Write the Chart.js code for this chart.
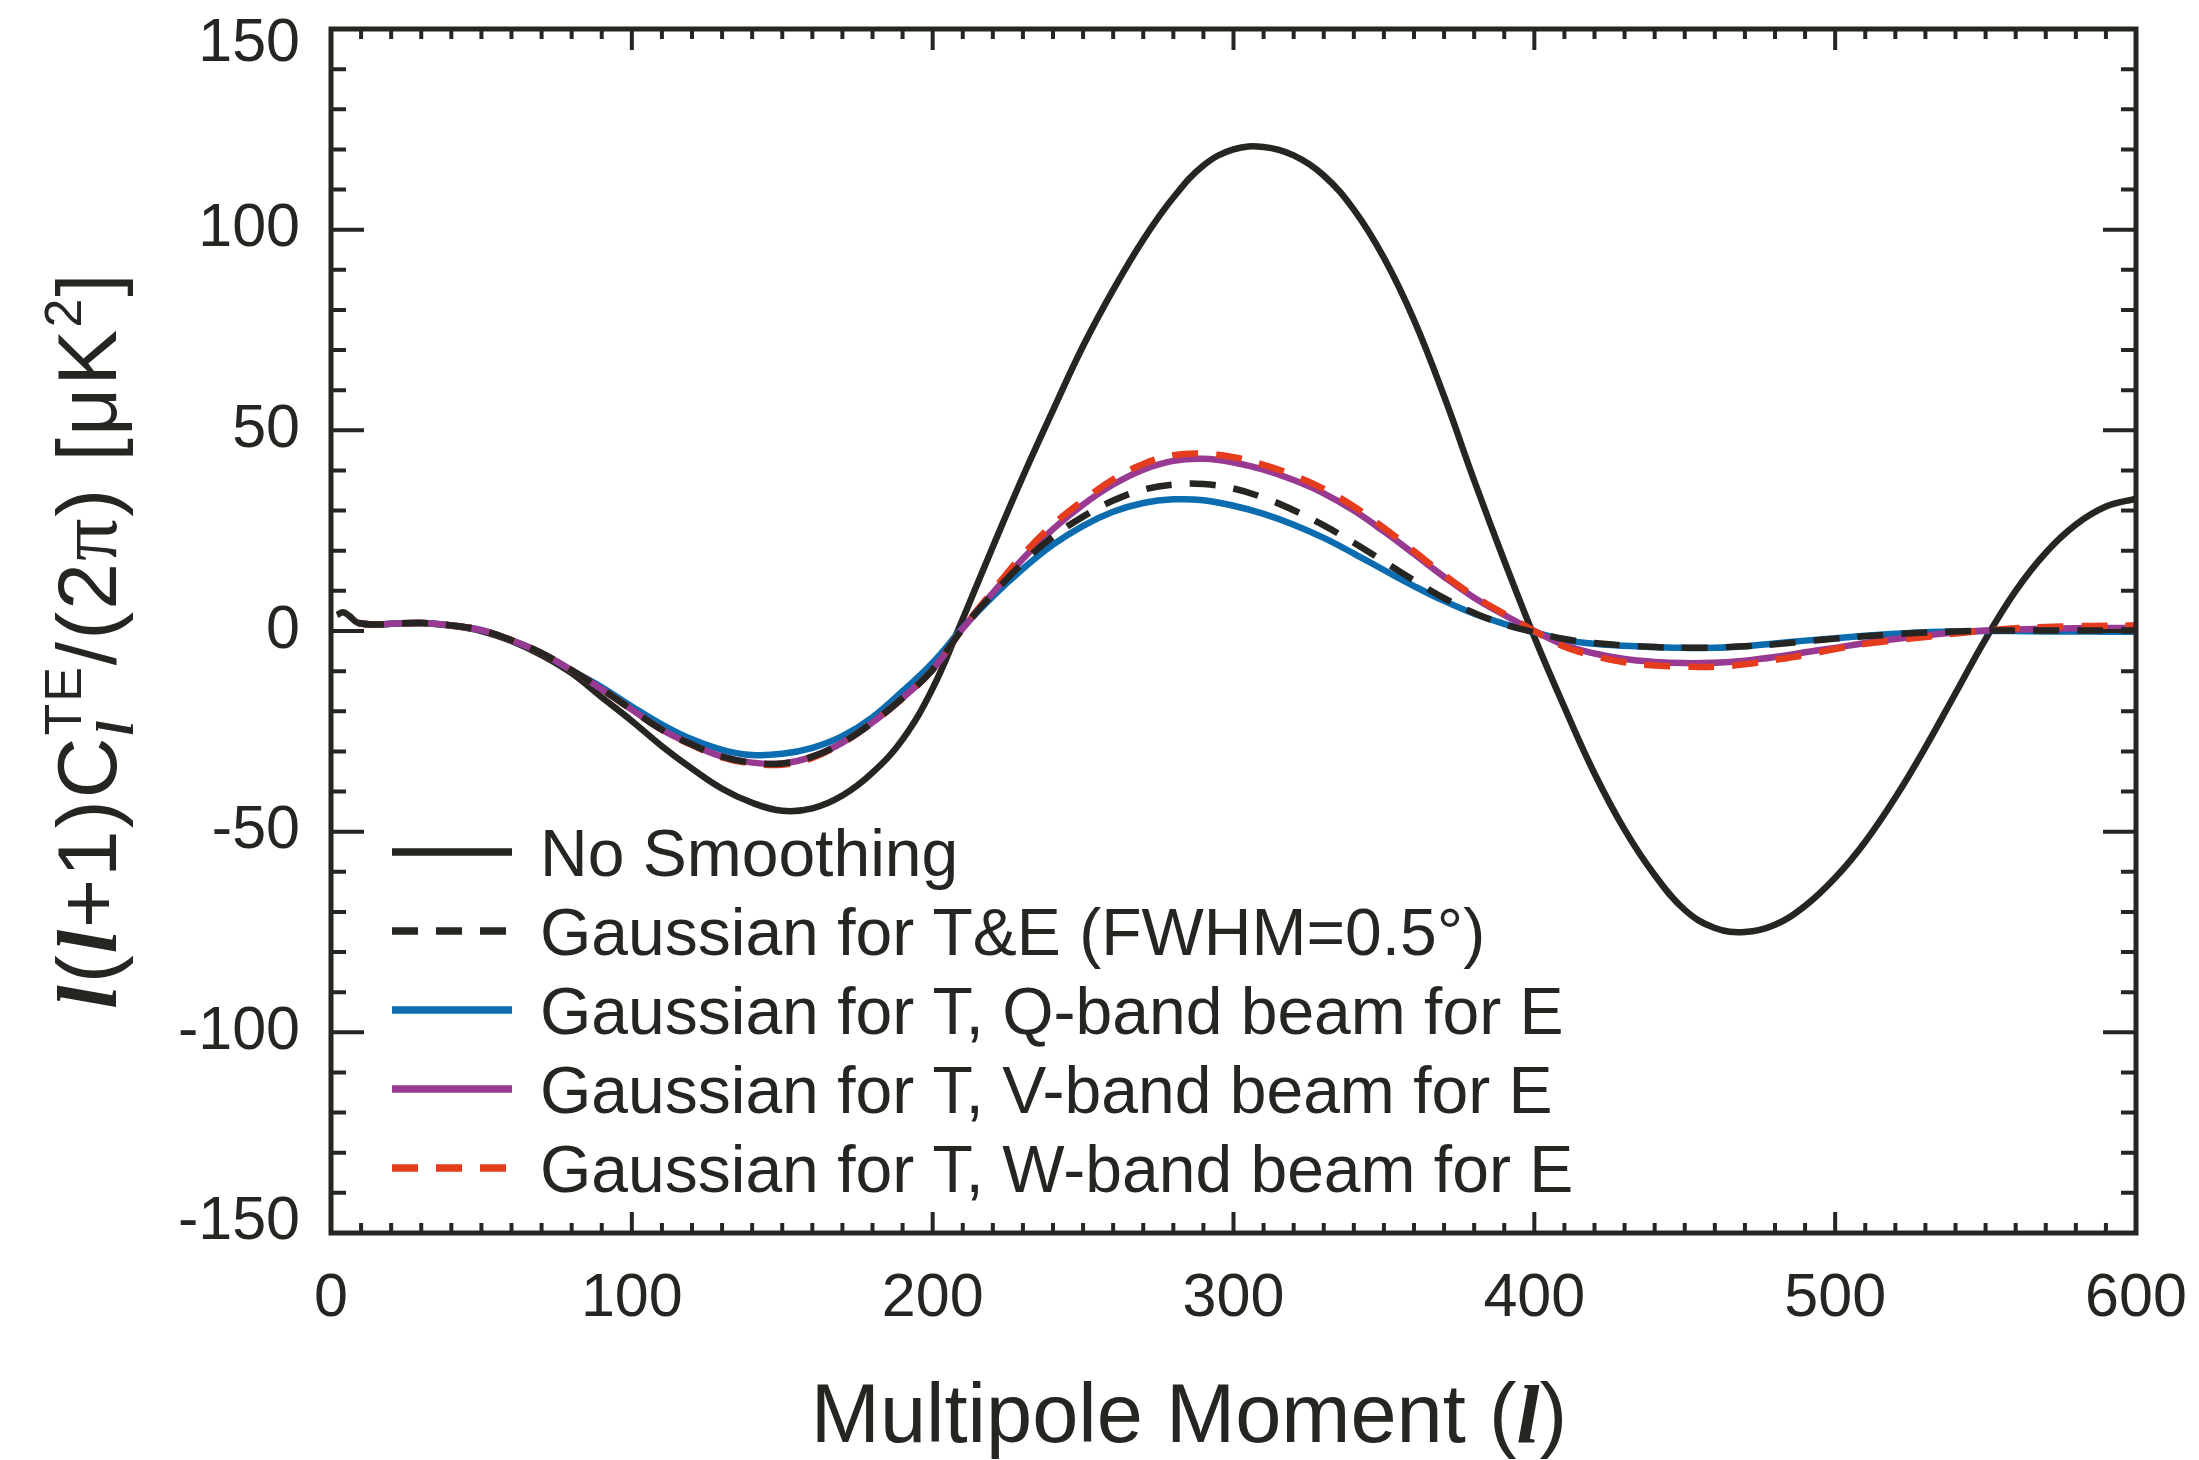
<!DOCTYPE html>
<html>
<head>
<meta charset="utf-8">
<script src="https://cdn.jsdelivr.net/npm/chart.js@4.4.1/dist/chart.umd.min.js"></script>
<style>
  html, body { margin: 0; padding: 0; background: #ffffff; }
  #wrap { width: 2199px; height: 1460px; }
</style>
</head>
<body>
<div id="wrap"><canvas id="chart-te" width="2199" height="1460"></canvas></div>
<script>
// multipole moments (shared x values)
const ell = [2, 4, 6, 9, 14, 20,
  30, 40, 50, 60, 70, 80, 90, 100, 110, 120, 130, 140, 150, 160, 170, 180, 190, 200,
  210, 220, 230, 240, 250, 260, 270, 280, 290, 300, 310, 320, 330, 340, 350, 360, 370, 380, 390, 400,
  410, 420, 430, 440, 450, 460, 470, 480, 490, 500, 510, 520, 530, 540, 550, 560, 570, 580, 590, 600];

const noSmoothing = [4.0, 4.7, 3.8, 2.0, 1.6, 1.8,
  2.0, 1.3, 0.0, -2.5, -6.0, -10.5, -16.5, -22.4, -28.7, -34.3, -39.3, -42.8, -44.8, -44.2, -41.0, -35.3, -27.0, -14.3,
  3.0, 21.0, 38.5, 55.0, 71.0, 85.0, 97.5, 108.0, 116.0, 120.0, 120.6, 118.5, 113.5, 105.0, 93.0, 77.5, 58.5, 37.5, 17.5, -1.5,
  -19.0, -35.5, -49.5, -60.8, -69.5, -74.0, -75.0, -73.2, -68.5, -61.5, -52.5, -41.5, -29.0, -15.5, -2.0, 10.0, 19.5, 26.5, 31.0, 33.0];

const gaussTE = [null, null, null, 2.0, 1.6, 1.8,
  2.0, 1.4, 0.2, -2.3, -5.5, -9.8, -14.5, -19.6, -24.6, -28.3, -31.3, -32.8, -33.0, -31.3, -27.8, -22.8, -16.7, -9.6,
  0.6, 9.2, 17.0, 23.5, 28.5, 32.5, 35.2, 36.5, 36.6, 35.5, 33.2, 30.1, 26.3, 22.0, 17.3, 12.6, 8.2, 4.5, 1.7, -0.3,
  -2.0, -3.0, -3.6, -4.0, -4.2, -4.1, -3.8, -3.3, -2.6, -1.9, -1.3, -0.8, -0.4, -0.1, 0.1, 0.1, 0.1, 0.1, 0.1, 0.1];

const qBand = [null, null, null, 2.0, 1.6, 1.8,
  2.0, 1.4, 0.2, -2.3, -5.5, -9.8, -14.0, -18.8, -23.3, -27.0, -29.6, -30.9, -30.6, -29.1, -26.2, -21.5, -15.0, -7.9,
  0.8, 8.6, 15.5, 21.5, 26.2, 29.7, 31.9, 32.8, 32.6, 31.2, 29.2, 26.5, 23.2, 19.3, 15.2, 11.2, 7.5, 4.3, 1.8, -0.3,
  -2.2, -3.2, -3.7, -4.0, -4.2, -4.2, -3.8, -3.1, -2.4, -1.8, -1.2, -0.7, -0.3, -0.1, 0.0, 0.0, -0.1, -0.1, -0.2, -0.2];

const vBand = [null, null, null, 2.0, 1.6, 1.8,
  2.0, 1.4, 0.2, -2.3, -5.5, -9.8, -14.5, -19.6, -24.6, -28.3, -31.3, -32.8, -33.0, -31.3, -27.8, -22.8, -16.7, -9.6,
  0.6, 9.5, 18.0, 25.4, 31.5, 36.5, 40.2, 42.4, 42.9, 42.0, 40.2, 37.6, 34.3, 30.0, 24.8, 19.2, 13.5, 8.3, 4.0, 0.0,
  -3.5, -5.6, -7.0, -7.7, -8.0, -7.9, -7.4, -6.5, -5.3, -4.2, -3.0, -2.0, -1.1, -0.4, 0.1, 0.4, 0.55, 0.7, 0.75, 0.8];

const wBand = [null, null, null, 2.0, 1.6, 1.8,
  2.0, 1.4, 0.2, -2.3, -5.5, -9.8, -14.5, -19.6, -24.6, -28.4, -31.5, -33.0, -33.3, -31.6, -27.9, -22.8, -16.7, -9.6,
  0.6, 10.0, 19.0, 26.5, 32.5, 37.8, 41.6, 43.8, 44.2, 43.3, 41.4, 38.8, 35.4, 31.0, 25.7, 19.9, 14.0, 8.7, 4.3, 0.0,
  -3.9, -6.2, -7.8, -8.6, -8.9, -8.9, -8.3, -7.2, -6.0, -4.5, -3.2, -2.3, -1.5, -0.6, 0.1, 0.7, 1.0, 1.2, 1.3, 1.4];

const seriesLabels = [
  'No Smoothing',
  'Gaussian for T&E (FWHM=0.5\u00b0)',
  'Gaussian for T, Q-band beam for E',
  'Gaussian for T, V-band beam for E',
  'Gaussian for T, W-band beam for E'
];

// axis ranges and ticks
const xMin = 0, xMax = 600, xMajor = 100, xMinor = 10;
const yMin = -150, yMax = 150, yMajor = 50, yMinor = 10;

const ink = '#262522';
const sans = '"Liberation Sans", Arial, Helvetica, sans-serif';
const serif = '"Liberation Serif", "Times New Roman", serif';
const tickFont = 61;

function toPoints(values) {
  const pts = [];
  values.forEach((v, i) => {
    if (v !== null) pts.push({ x: ell[i], y: v });
  });
  return pts;
}

// lays out a run of text pieces (a superscript can stack on the previous subscript)
function layoutRun(ctx, parts) {
  let x = 0, prevStart = 0, prevW = 0;
  const placed = [];
  for (const p of parts) {
    ctx.font = p.font;
    const w = ctx.measureText(p.text).width;
    let start = x;
    if (p.stack) {
      start = prevStart;
      x = prevStart + Math.max(prevW, w);
    } else {
      x += w;
    }
    placed.push({ text: p.text, font: p.font, dy: p.dy || 0, x: start });
    prevStart = start;
    prevW = w;
  }
  return { placed, width: x };
}

function drawRun(ctx, parts, cx, baseY) {
  const run = layoutRun(ctx, parts);
  const x0 = cx - run.width / 2;
  ctx.textBaseline = 'alphabetic';
  ctx.textAlign = 'left';
  run.placed.forEach(p => {
    ctx.font = p.font;
    ctx.fillText(p.text, x0 + p.x, baseY + p.dy);
  });
}

const frameTicksPlugin = {
  id: 'frameTicks',
  afterDatasetsDraw(chart) {
    const { ctx, chartArea: a, scales: { x, y } } = chart;
    ctx.save();
    ctx.strokeStyle = ink;
    ctx.lineWidth = 4;
    ctx.beginPath();
    for (let i = 0; i <= (xMax - xMin) / xMinor; i++) {
      const v = xMin + i * xMinor;
      const px = x.getPixelForValue(v);
      const len = v % xMajor === 0 ? 21 : 10;
      ctx.moveTo(px, a.bottom); ctx.lineTo(px, a.bottom - len);
      ctx.moveTo(px, a.top); ctx.lineTo(px, a.top + len);
    }
    for (let i = 0; i <= (yMax - yMin) / yMinor; i++) {
      const v = yMin + i * yMinor;
      const py = y.getPixelForValue(v);
      const len = v % yMajor === 0 ? 33 : 15;
      ctx.moveTo(a.left, py); ctx.lineTo(a.left + len, py);
      ctx.moveTo(a.right, py); ctx.lineTo(a.right - len, py);
    }
    ctx.stroke();
    ctx.lineWidth = 5;
    ctx.strokeRect(a.left, a.top, a.right - a.left, a.bottom - a.top);
    ctx.restore();
  },
  afterDraw(chart) {
    const { ctx, chartArea: a, scales: { y } } = chart;
    ctx.save();
    ctx.fillStyle = ink;

    // y tick labels: the end labels sit a little inside the frame
    ctx.font = `${tickFont}px ${sans}`;
    ctx.textAlign = 'right';
    ctx.textBaseline = 'middle';
    y.ticks.forEach(t => {
      let py = y.getPixelForValue(t.value);
      if (t.value === yMax) py += 15;
      if (t.value === yMin) py -= 11;
      ctx.fillText(String(t.value), a.left - 31, py);
    });

    // x axis title
    const xs = 83;
    drawRun(ctx, [
      { text: 'Multipole Moment (', font: `${xs}px ${sans}` },
      { text: 'l', font: `bold italic ${xs}px ${serif}` },
      { text: ')', font: `${xs}px ${sans}` }
    ], 1189, 1442);

    // y axis title, rotated
    const s = 84, ss = Math.round(s * 0.62);
    ctx.save();
    ctx.translate(116, 640);
    ctx.rotate(-Math.PI / 2);
    ctx.letterSpacing = '2px';
    drawRun(ctx, [
      { text: 'l', font: `bold italic ${s}px ${serif}` },
      { text: '(', font: `${s}px ${sans}` },
      { text: 'l', font: `bold italic ${s}px ${serif}` },
      { text: '+1)C', font: `${s}px ${sans}` },
      { text: 'l', font: `bold italic ${ss}px ${serif}`, dy: s * 0.2 },
      { text: 'TE', font: `${ss}px ${sans}`, dy: -s * 0.42, stack: true },
      { text: '/(2', font: `${s}px ${sans}` },
      { text: '\u03c0', font: `${s}px ${serif}` },
      { text: ') [\u03bcK', font: `${s}px ${sans}` },
      { text: '2', font: `${ss}px ${sans}`, dy: -s * 0.42 },
      { text: ']', font: `${s}px ${sans}` }
    ], 0, 0);
    ctx.restore();

    // legend
    const rowY0 = 852, rowStep = 79;
    const lineX0 = 392, lineX1 = 512, textX = 540;
    chart.data.datasets.forEach(ds => {
      const row = seriesLabels.indexOf(ds.label);
      const ly = rowY0 + row * rowStep;
      ctx.save();
      ctx.strokeStyle = ds.borderColor;
      ctx.lineWidth = 7.5;
      ctx.setLineDash(ds.borderDash || []);
      ctx.beginPath();
      ctx.moveTo(lineX0, ly);
      ctx.lineTo(lineX1, ly);
      ctx.stroke();
      ctx.restore();
      ctx.font = `66px ${sans}`;
      ctx.textAlign = 'left';
      ctx.textBaseline = 'alphabetic';
      ctx.fillText(ds.label, textX, ly + 24);
    });
    ctx.restore();
  }
};

function loadGraph() {
  const dash = [26, 18];
  const config = {
    type: 'line',
    data: {
      datasets: [
        { label: seriesLabels[0], data: toPoints(noSmoothing), borderColor: ink, order: 5 },
        { label: seriesLabels[1], data: toPoints(gaussTE), borderColor: ink, borderDash: dash, order: 1 },
        { label: seriesLabels[2], data: toPoints(qBand), borderColor: '#0b6db0', order: 4 },
        { label: seriesLabels[3], data: toPoints(vBand), borderColor: '#993a92', order: 3 },
        { label: seriesLabels[4], data: toPoints(wBand), borderColor: '#e53c1e', borderDash: dash, order: 2 }
      ]
    },
    options: {
      responsive: false,
      animation: false,
      devicePixelRatio: 1,
      layout: { padding: { top: 29, right: 63, bottom: 0, left: 0 } },
      elements: {
        line: { borderWidth: 6.5, tension: 0.4, fill: false, borderCapStyle: 'butt' },
        point: { radius: 0, hoverRadius: 0 }
      },
      scales: {
        x: {
          type: 'linear',
          min: xMin,
          max: xMax,
          grid: { display: false },
          border: { display: false },
          ticks: {
            stepSize: xMajor,
            color: ink,
            padding: 22,
            maxRotation: 0,
            font: { family: sans, size: tickFont }
          },
          afterFit(scale) {
            scale.height = 227;
            scale.paddingLeft = 0;
            scale.paddingRight = 0;
          }
        },
        y: {
          type: 'linear',
          min: yMin,
          max: yMax,
          grid: { display: false },
          border: { display: false },
          ticks: {
            stepSize: yMajor,
            display: false
          },
          afterFit(scale) {
            scale.width = 331;
            scale.paddingTop = 0;
            scale.paddingBottom = 0;
          }
        }
      },
      plugins: {
        legend: { display: false },
        title: { display: false },
        tooltip: { enabled: false }
      }
    },
    plugins: [frameTicksPlugin]
  };

  const ctx = document.getElementById('chart-te').getContext('2d');
  new Chart(ctx, config);
}

loadGraph();
</script>
</body>
</html>
